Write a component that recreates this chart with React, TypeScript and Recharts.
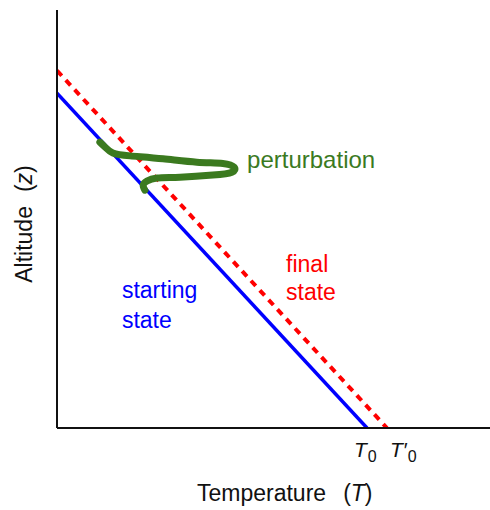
import React from 'react';
import { LineChart, Line, XAxis, YAxis } from 'recharts';

// starting profile and final profile (temperature vs altitude, arbitrary units)
const startingState = [
  { t: 0, z: 80.1 },
  { t: 71.6, z: 0 },
];
const finalState = [
  { t: 0, z: 85.5 },
  { t: 76.2, z: 0 },
];
// hand-drawn perturbation loop, in drawing order
const perturbation = [
  { t: 9.9, z: 68.4 },
  { t: 11.1, z: 67.2 },
  { t: 12.9, z: 65.8 },
  { t: 16.9, z: 65.1 },
  { t: 24.5, z: 64.4 },
  { t: 32.3, z: 63.6 },
  { t: 38.3, z: 63.3 },
  { t: 40.9, z: 62.4 },
  { t: 40.4, z: 61.2 },
  { t: 36.0, z: 60.5 },
  { t: 28.4, z: 60.0 },
  { t: 23.1, z: 59.8 },
  { t: 20.8, z: 59.1 },
  { t: 19.9, z: 58.1 },
  { t: 20.3, z: 56.9 },
];
const tempTicks = [71.6, 76.2];
const tickLabels = ['T', 'T\u2032'];

const perturbationLabel = [{ t: 43.9, z: 62.2, text: 'perturbation' }];
const finalLabel = [
  { t: 52.9, z: 37.3, text: 'final' },
  { t: 52.9, z: 30.6, text: 'state' },
];
const startingLabel = [
  { t: 15.0, z: 31.1, text: 'starting' },
  { t: 15.0, z: 23.9, text: 'state' },
];

const FONT = '"Liberation Sans", Arial, sans-serif';
const BLUE = '#0000ff';
const RED = '#ff0000';
const GREEN = '#3b7a1f';

function makeTextDot(color: string, size = 23) {
  return (props: any) => {
    const { cx, cy, payload, index } = props;
    return (
      <text key={index} x={cx} y={cy} fill={color} fontSize={size} fontFamily={FONT}>
        {payload.text}
      </text>
    );
  };
}

function TempTick(props: any) {
  const { x, y, payload } = props;
  const i = tempTicks.indexOf(payload.value);
  const dx = i === 0 ? -13 : 3;
  return (
    <text x={x + dx} y={y + 29} fill="#111" style={{ fontSize: 21, fontFamily: FONT }}>
      <tspan style={{ fontSize: 21, fontStyle: 'italic' }}>{tickLabels[i]}</tspan>
      <tspan style={{ fontSize: 16 }} dy={5} dx={1}>0</tspan>
    </text>
  );
}

function XTitle(props: any) {
  const { viewBox } = props;
  const x = viewBox.x + 140;
  const y = viewBox.y + 73;
  return (
    <text x={x} y={y} fill="#111" fontSize={23} fontFamily={FONT}>
      Temperature
      <tspan dx={17}>(</tspan>
      <tspan fontStyle="italic">T</tspan>
      <tspan>)</tspan>
    </text>
  );
}

function YTitle(props: any) {
  const { viewBox } = props;
  const cx = viewBox.x + 32;
  const cy = viewBox.y + viewBox.height / 2 + 5;
  return (
    <text
      x={cx}
      y={cy}
      transform={`rotate(-90, ${cx}, ${cy})`}
      textAnchor="middle"
      fill="#111"
      fontSize={23}
      fontFamily={FONT}
    >
      Altitude
      <tspan dx={14}>(</tspan>
      <tspan fontStyle="italic">z</tspan>
      <tspan>)</tspan>
    </text>
  );
}

export default function App() {
  return (
    <div style={{ position: 'absolute', left: 0, top: 0, background: '#fff' }}>
      <LineChart width={490} height={510} margin={{ top: 10, right: 0, bottom: 0, left: 0 }}>
        <XAxis
          type="number"
          dataKey="t"
          domain={[0, 100]}
          ticks={tempTicks}
          interval={0}
          tick={<TempTick />}
          tickLine={false}
          tickSize={0}
          tickMargin={0}
          axisLine={{ stroke: '#111', strokeWidth: 2 }}
          height={82}
          allowDataOverflow
          label={<XTitle />}
        />
        <YAxis
          type="number"
          dataKey="z"
          domain={[0, 100]}
          tick={false}
          tickLine={false}
          axisLine={{ stroke: '#111', strokeWidth: 2 }}
          width={57}
          allowDataOverflow
          label={<YTitle />}
        />
        <Line
          data={finalState}
          dataKey="z"
          type="linear"
          stroke={RED}
          strokeWidth={4}
          strokeDasharray="7 6"
          dot={false}
          isAnimationActive={false}
        />
        <Line
          data={startingState}
          dataKey="z"
          type="linear"
          stroke={BLUE}
          strokeWidth={3.5}
          dot={false}
          isAnimationActive={false}
        />
        <Line
          data={perturbation}
          dataKey="z"
          type="natural"
          stroke={GREEN}
          strokeWidth={7}
          strokeLinecap="round"
          strokeLinejoin="round"
          dot={false}
          isAnimationActive={false}
        />
        <Line
          data={perturbationLabel}
          dataKey="z"
          stroke="none"
          dot={makeTextDot(GREEN, 24)}
          isAnimationActive={false}
        />
        <Line
          data={finalLabel}
          dataKey="z"
          stroke="none"
          dot={makeTextDot(RED)}
          isAnimationActive={false}
        />
        <Line
          data={startingLabel}
          dataKey="z"
          stroke="none"
          dot={makeTextDot(BLUE)}
          isAnimationActive={false}
        />
      </LineChart>
    </div>
  );
}
